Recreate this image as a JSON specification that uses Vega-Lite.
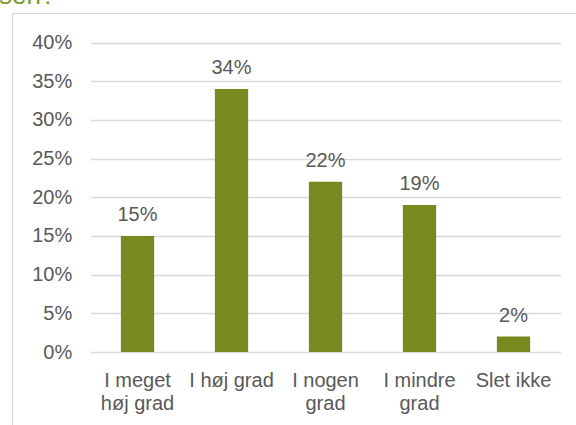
{
  "$schema": "https://vega.github.io/schema/vega-lite/v6.json",
  "autosize": "none",
  "width": 566,
  "height": 414,
  "padding": {"left": 12, "top": 13, "right": -2, "bottom": -2},
  "background": "white",
  "title": {
    "text": "sen?",
    "anchor": "start",
    "frame": "group",
    "orient": "top",
    "offset": 0,
    "dx": -13,
    "dy": 17,
    "baseline": "alphabetic",
    "font": "Liberation Sans",
    "fontSize": 26,
    "fontWeight": "normal",
    "color": "#7b9a2b"
  },
  "data": {
    "values": [
      {"svar": "I meget høj grad", "andel": 0.15},
      {"svar": "I høj grad", "andel": 0.34},
      {"svar": "I nogen grad", "andel": 0.22},
      {"svar": "I mindre grad", "andel": 0.19},
      {"svar": "Slet ikke", "andel": 0.02}
    ]
  },
  "encoding": {
    "x": {
      "field": "svar",
      "type": "nominal",
      "sort": null,
      "scale": {"range": [78.5, 548.5], "paddingInner": 0.646, "paddingOuter": 0.323},
      "axis": {
        "title": null,
        "domain": false,
        "ticks": false,
        "offset": -75,
        "labelPadding": 18.5,
        "labelAngle": 0,
        "labelFontSize": 20,
        "labelLineHeight": 22.5,
        "labelColor": "#595959",
        "labelExpr": "datum.label == 'I meget høj grad' ? ['I meget', 'høj grad'] : datum.label == 'I nogen grad' ? ['I nogen', 'grad'] : datum.label == 'I mindre grad' ? ['I mindre', 'grad'] : datum.label"
      }
    },
    "y": {
      "field": "andel",
      "type": "quantitative",
      "scale": {"domain": [0, 0.4], "range": [339, 29.5], "nice": false},
      "axis": {
        "title": null,
        "domain": false,
        "ticks": false,
        "grid": true,
        "gridColor": "#d9d9d9",
        "gridWidth": 1.3,
        "values": [0, 0.05, 0.1, 0.15, 0.2, 0.25, 0.3, 0.35, 0.4],
        "format": ".0%",
        "labelPadding": -59.7,
        "labelFontSize": 20,
        "labelColor": "#595959"
      }
    }
  },
  "layer": [
    {"mark": {"type": "bar", "color": "#778a1f"}},
    {
      "mark": {
        "type": "text",
        "baseline": "alphabetic",
        "dy": -15,
        "fontSize": 20,
        "color": "#595959"
      },
      "encoding": {"text": {"field": "andel", "type": "quantitative", "format": ".0%"}}
    }
  ],
  "config": {
    "font": "Liberation Sans",
    "axis": {"labelFont": "Liberation Sans"},
    "text": {"font": "Liberation Sans"},
    "view": {"stroke": "#d9d9d9", "strokeWidth": 1}
  }
}
